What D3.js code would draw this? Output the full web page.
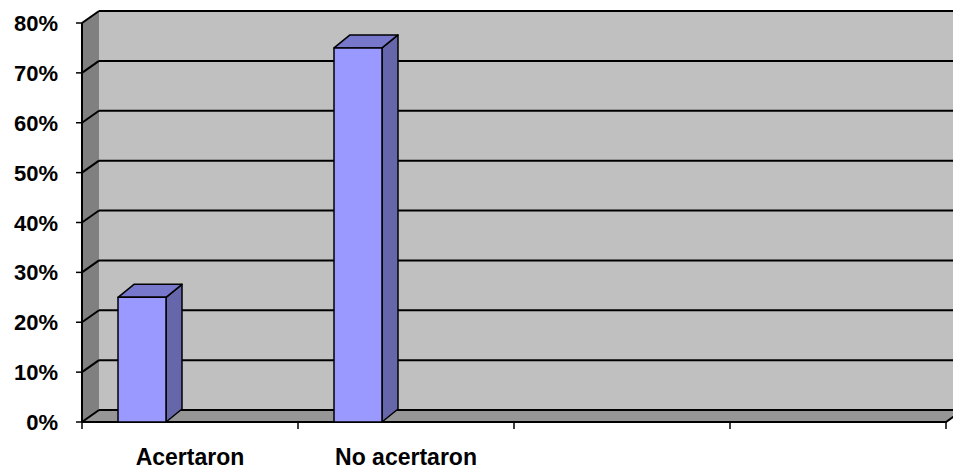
<!DOCTYPE html>
<meta charset="utf-8">
<style>
  body { margin: 0; background: #fff; }
  text { font-family: "Liberation Sans", Arial, sans-serif; font-weight: bold; fill: #000; }
  .ylabel { font-size: 22px; }
  .xlabel { font-size: 23px; }
</style>
<body>
<script src="https://cdn.jsdelivr.net/npm/d3@7"></script>
<script>

  // Data
  var categories = ["Acertaron", "No acertaron"];
  var values = [0.25, 0.75];
  var slots = ["Acertaron", "No acertaron", "s3", "s4"];   // the axis has four slots
  var yTicks = [0, 0.1, 0.2, 0.3, 0.4, 0.5, 0.6, 0.7, 0.8];

  var W = 953, H = 469;
  var dx = 17, dy = -12;        // wall depth
  var bdx = 16, bdy = -13;      // bar depth

  var svg = d3.select("body").append("svg")
    .attr("width", W)
    .attr("height", H);

  var x = d3.scaleBand().domain(slots).range([82, 946]).padding(0);
  var y = d3.scaleLinear().domain([0, 0.8]).range([422, 23]);

  var x0 = x.range()[0], x1 = x.range()[1];
  var yb = y(0), yt = y(0.8);

  // Walls and floor.
  svg.append("polygon")
    .attr("points", [[x0 + dx, yt + dy], [W + 20, yt + dy], [W + 20, yb + dy], [x0 + dx, yb + dy]].join(" "))
    .attr("fill", "#c0c0c0");

  svg.append("polygon")
    .attr("points", [[x0, yb], [x0, yt], [x0 + dx, yt + dy], [x0 + dx, yb + dy]].join(" "))
    .attr("fill", "#808080");

  svg.append("polygon")
    .attr("points", [[x0, yb], [x0 + dx, yb + dy], [W + 20, yb + dy], [x1 + dx, yb + dy], [x1, yb]].join(" "))
    .attr("fill", "#969696");

  // Gridlines: diagonal on the side wall, flat on the back wall.
  var grid = svg.append("g").attr("stroke", "#000").attr("stroke-width", 2).attr("fill", "none");
  grid.selectAll(".back")
    .data(yTicks)
    .enter().append("line")
    .attr("x1", x0 + dx).attr("x2", W + 20)
    .attr("y1", function(d) { return y(d) + dy; })
    .attr("y2", function(d) { return y(d) + dy; });
  grid.selectAll(".side")
    .data(yTicks)
    .enter().append("line")
    .attr("x1", x0).attr("x2", x0 + dx)
    .attr("y1", function(d) { return y(d); })
    .attr("y2", function(d) { return y(d) + dy; });

  // Floor front edge.
  svg.append("path")
    .attr("d", "M" + x0 + "," + yb + "L" + x1 + "," + yb + "L" + (x1 + dx) + "," + (yb + dy))
    .attr("stroke", "#000").attr("stroke-width", 2).attr("fill", "none");

  // Left axis.
  svg.append("line")
    .attr("x1", x0).attr("x2", x0).attr("y1", yb).attr("y2", yt)
    .attr("stroke", "#000").attr("stroke-width", 2);
  svg.selectAll(".ytick")
    .data(yTicks)
    .enter().append("line")
    .attr("x1", x0 - 6).attr("x2", x0)
    .attr("y1", function(d) { return y(d); })
    .attr("y2", function(d) { return y(d); })
    .attr("stroke", "#000").attr("stroke-width", 1.5);
  svg.selectAll(".ylabel")
    .data(yTicks)
    .enter().append("text")
    .attr("class", "ylabel")
    .attr("x", 58)
    .attr("y", function(d) { return y(d) + 8; })
    .attr("text-anchor", "end")
    .text(d3.format(".0%"));

  // Bottom axis ticks at the slot edges.
  var edges = slots.map(function(s) { return x(s); }).concat([x1]);
  svg.selectAll(".xtick")
    .data(edges)
    .enter().append("line")
    .attr("x1", function(d) { return d; })
    .attr("x2", function(d) { return d; })
    .attr("y1", yb).attr("y2", yb + 7)
    .attr("stroke", "#000").attr("stroke-width", 1.5);

  svg.selectAll(".xlabel")
    .data(categories)
    .enter().append("text")
    .attr("class", "xlabel")
    .attr("x", function(d) { return x(d) + x.bandwidth() / 2; })
    .attr("y", 465)
    .attr("text-anchor", "middle")
    .text(function(d) { return d; });

  // 3D bars.
  var bw = x.bandwidth() * 48 / 216;
  var off = x.bandwidth() * 36 / 216;
  var bars = svg.selectAll(".bar")
    .data(categories.map(function(c, i) { return {c: c, v: values[i]}; }))
    .enter().append("g")
    .attr("stroke", "#000").attr("stroke-width", 1.5).attr("stroke-linejoin", "round");

  bars.append("polygon")
    .attr("fill", "#6666aa")
    .attr("points", function(d) {
      var l = x(d.c) + off + bw, t = y(d.v);
      return [[l, yb], [l, t], [l + bdx, t + bdy], [l + bdx, yb + bdy]].join(" ");
    });
  bars.append("polygon")
    .attr("fill", "#7777cc")
    .attr("points", function(d) {
      var l = x(d.c) + off, t = y(d.v);
      return [[l, t], [l + bdx, t + bdy], [l + bw + bdx, t + bdy], [l + bw, t]].join(" ");
    });
  bars.append("rect")
    .attr("fill", "#9999ff")
    .attr("x", function(d) { return x(d.c) + off; })
    .attr("y", function(d) { return y(d.v); })
    .attr("width", bw)
    .attr("height", function(d) { return yb - y(d.v); });

</script>
